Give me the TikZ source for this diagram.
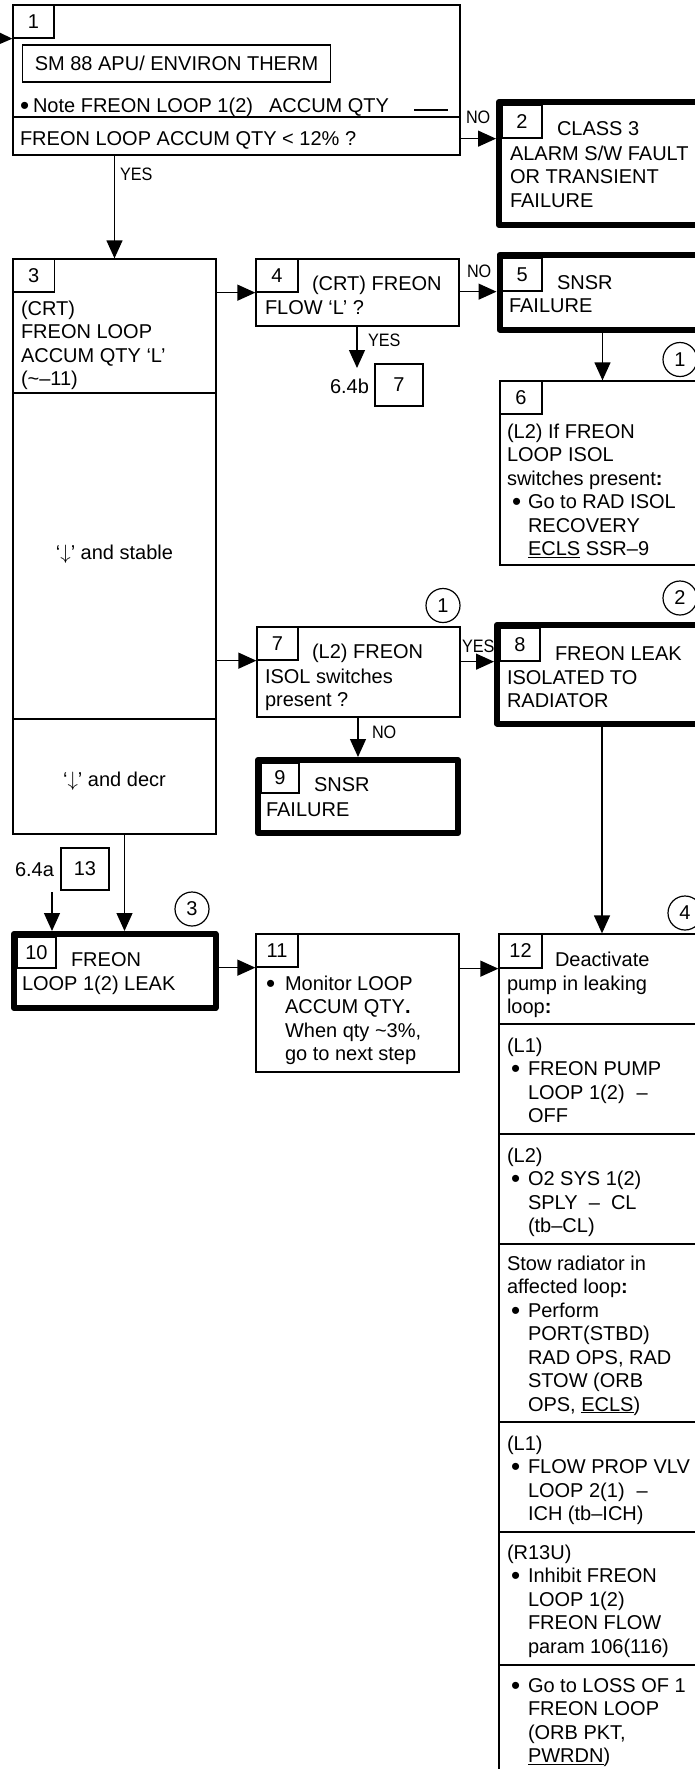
\documentclass[tikz,border=0pt]{standalone}
\usepackage{fontspec}
\setmainfont{Liberation Sans}
\newfontfamily\lblfamily[FakeStretch=0.9]{Liberation Sans}
\usetikzlibrary{arrows.meta}
\newcommand\myfs{\fontsize{20}{23.5}\selectfont}
\newcommand\mylbl{\lblfamily\fontsize{18}{20}\selectfont}
\newcommand\mybul{\raisebox{-2pt}{\scalebox{1.3}{\textbullet}}}
\newcommand\mkbox[6]{\node[#1, minimum width={#5-#3}, minimum height={#6-#4}] (#2) at ({(#3+#5)/2},{(#4+#6)/2}) {};}
\newcommand\mknum[6]{\node[numbox, minimum width={#4-#2}, minimum height={#5-#3}] (#1) at ({(#2+#4)/2},{(#3+#5)/2}) {#6};}
\newcommand\tlines[4]{\foreach \mytl [count=\i] in {#4} {\node[txt] (#1-\i) at (#2,{#3+(\i-1)*23.5}) {\mytl};}}
\begin{document}
\begin{tikzpicture}[x=1pt,y=-1pt,
  thinbox/.style={draw, line width=1.3pt, rectangle, inner sep=0pt, outer sep=0.65pt},
  thickbox/.style={draw, line width=6pt, line join=round, rectangle, inner sep=0pt, outer sep=3pt},
  numbox/.style={draw, line width=1.3pt, rectangle, inner sep=0pt, outer sep=0.65pt, font=\myfs},
  txt/.style={anchor=base west, inner sep=0pt, outer sep=0pt, font=\myfs},
  ctxt/.style={anchor=base, inner sep=0pt, outer sep=0pt, font=\myfs},
  lbl/.style={anchor=base west, inner sep=0pt, outer sep=0pt, font=\mylbl},
  circ/.style={draw, circle, line width=1.2pt, minimum size=34pt, inner sep=0pt, font=\myfs},
  arr/.style={line width=1.3pt, -{Triangle[length=18pt,width=16pt]}},
  rule/.style={line width=1.3pt}]
\useasboundingbox (0,0) rectangle (695,1769);
\clip (0,0) rectangle (695,1769);

% ---------- box 1
\mkbox{thinbox}{b1}{13}{5}{460}{155}
\mknum{n1}{13}{5}{54}{38}{1}
\draw[rule] (13,117) -- (460,117);
\node[thinbox, minimum width=308, minimum height=37, font=\myfs] (sm) at (176.5,63.5) {SM 88 APU/ ENVIRON THERM};
\node[txt] (b1bul) at (20,112) {\mybul};
\node[txt] (b1note) at (33,112) {Note FREON LOOP 1(2)\hspace{16pt}ACCUM QTY};
\draw[rule] (414,110) -- (448,110);
\node[txt] (b1q) at (20,145) {FREON LOOP ACCUM QTY < 12\% ?};

% ---------- box 2
\mkbox{thickbox}{b2}{499}{102}{705}{225}
\mknum{n2}{502}{105}{542}{138}{2}
\node[txt] (b2a) at (557,135) {CLASS 3};
\tlines{b2t}{510}{160}{{ALARM S/W FAULT},{OR TRANSIENT},{FAILURE}}

% ---------- box 3
\mkbox{thinbox}{b3}{13}{259}{216}{834}
\mknum{n3}{13}{259}{54.5}{292}{3}
\draw[rule] (13,393) -- (216,393);
\draw[rule] (13,719) -- (216,719);
\tlines{b3t}{21}{315}{{(CRT)},{FREON LOOP},{ACCUM QTY ‘L’},{(\textasciitilde–11)}}
\node[ctxt] (st) at (114.5,559) {‘$\downarrow$’ and stable};
\node[ctxt] (dc) at (114.5,786) {‘$\downarrow$’ and decr};

% ---------- box 4
\mkbox{thinbox}{b4}{256}{259}{459}{326}
\mknum{n4}{256}{259}{298}{292}{4}
\node[txt] (b4a) at (312,290) {(CRT) FREON};
\node[txt] (b4b) at (265,314) {FLOW ‘L’ ?};
\node[txt] (t64b) at (330,393) {6.4b};
\mknum{r7}{375}{364}{423}{406}{7}

% ---------- box 5
\mkbox{thickbox}{b5}{499.5}{255}{705}{329.5}
\mknum{n5}{502.5}{258}{542}{291}{5}
\node[txt] (b5a) at (557,289) {SNSR};
\node[txt] (b5b) at (509,312) {FAILURE};

% ---------- box 6
\mkbox{thinbox}{b6}{500}{381}{705}{565}
\mknum{n6}{500}{381}{542}{414}{6}
\tlines{b6t}{507}{438}{{(L2) If FREON},{LOOP ISOL},{switches present\textbf{:}}}
\node[txt] (b6bul) at (512,508.5) {\mybul};
\tlines{b6u}{528}{508.5}{{Go to RAD ISOL},{RECOVERY},{\underline{ECLS} SSR–9}}

% ---------- box 7
\mkbox{thinbox}{b7}{257}{627}{460}{717}
\mknum{n7}{257}{627}{298}{660}{7}
\node[txt] (b7a) at (312,658) {(L2) FREON};
\tlines{b7t}{265}{683}{{ISOL switches},{present ?}}

% ---------- box 8
\mkbox{thickbox}{b8}{497}{625}{705}{723.5}
\mknum{n8}{500}{628}{540}{661}{8}
\node[txt] (b8a) at (555,660) {FREON LEAK};
\tlines{b8t}{507}{684}{{ISOLATED TO},{RADIATOR}}

% ---------- box 9
\mkbox{thickbox}{b9}{258}{760}{458}{833}
\mknum{n9}{261}{763}{299}{793}{9}
\node[txt] (b9a) at (314,791) {SNSR};
\node[txt] (b9b) at (266,816) {FAILURE};

% ---------- box 10
\mkbox{thickbox}{b10}{14}{934}{215.5}{1008}
\mknum{n10}{17}{937}{56}{968}{10}
\node[txt] (b10a) at (71,966) {FREON};
\node[txt] (b10b) at (22,990) {LOOP 1(2) LEAK};
\node[txt] (t64a) at (15,876) {6.4a};
\mknum{r13}{61}{848}{109}{890}{13}

% ---------- box 11
\mkbox{thinbox}{b11}{256}{934}{459}{1072}
\mknum{n11}{256}{934}{298}{967}{11}
\node[txt] (b11bul) at (266,990) {\mybul};
\tlines{b11t}{285}{990}{{Monitor LOOP},{ACCUM QTY\textbf{.}},{When qty \textasciitilde3\%,},{go to next step}}

% ---------- box 12
\mkbox{thinbox}{b12}{499}{934}{705}{1800}
\mknum{n12}{499}{934}{542}{968}{12}
\node[txt] (b12a) at (555,966) {Deactivate};
\tlines{b12t}{507}{990}{{pump in leaking},{loop\textbf{:}}}
\foreach \yy in {1024,1134,1244,1422,1532,1665} {\draw[rule] (499,\yy) -- (705,\yy);}
\node[txt] (s2h) at (507,1052) {(L1)};
\node[txt] (s2b) at (511,1075.5) {\mybul};
\tlines{s2t}{528}{1075.5}{{FREON PUMP},{LOOP 1(2)\hspace{12pt}–},{OFF}}
\node[txt] (s3h) at (507,1162) {(L2)};
\node[txt] (s3b) at (511,1185.5) {\mybul};
\tlines{s3t}{528}{1185.5}{{O2 SYS 1(2)},{SPLY\ \ –\ \ CL},{(tb–CL)}}
\tlines{s4h}{507}{1270}{{Stow radiator in},{affected loop\textbf{:}}}
\node[txt] (s4b) at (511,1317) {\mybul};
\tlines{s4t}{528}{1317}{{Perform},{PORT(STBD)},{RAD OPS, RAD},{STOW (ORB},{OPS, \underline{ECLS})}}
\node[txt] (s5h) at (507,1450) {(L1)};
\node[txt] (s5b) at (511,1473.5) {\mybul};
\tlines{s5t}{528}{1473.5}{{FLOW PROP VLV},{LOOP 2(1)\hspace{12pt}–},{ICH (tb–ICH)}}
\node[txt] (s6h) at (507,1559) {(R13U)};
\node[txt] (s6b) at (511,1582.5) {\mybul};
\tlines{s6t}{528}{1582.5}{{Inhibit FREON},{LOOP 1(2)},{FREON FLOW},{param 106(116)}}
\node[txt] (s7b) at (511,1692) {\mybul};
\tlines{s7t}{528}{1692}{{Go to LOSS OF 1},{FREON LOOP},{(ORB PKT,},{\underline{PWRDN})}}

% ---------- circles
\node[circ] (k1) at (680,359.5) {1};
\node[circ] (k1b) at (443,605.5) {1};
\node[circ] (k2) at (680,598) {2};
\node[circ] (k3) at (192,909) {3};
\node[circ] (k4) at (685,913) {4};

% ---------- labels
\node[lbl] (yes1) at (120,180) {YES};
\node[lbl] (no1) at (466,123) {NO};
\node[lbl] (no2) at (467,277) {NO};
\node[lbl] (yes2) at (368,346) {YES};
\node[lbl] (yes3) at (462,652) {YES};
\node[lbl] (no3) at (372,738) {NO};

% ---------- connectors
\coordinate (in1) at (-20,38);
\draw[arr] (in1) -- (n1.south west);
\draw[arr] (b1.east |- n2.south) -- (b2.west |- n2.south);
\draw[arr] (b1.south -| b3.north) -- (b3.north);
\draw[arr] (b3.east |- n4.south) -- (n4.south west);
\draw[arr] (b4.east |- n5.south) -- (b5.west |- n5.south);
\coordinate (y4) at (357,368);
\draw[arr] (b4.south -| y4) -- (y4);
\draw[arr] (b5.south -| b6.north) -- (b6.north);
\draw[arr] (b3.east |- n7.south) -- (n7.south west);
\draw[arr] (b7.east |- n8.south) -- (b8.west |- n8.south);
\draw[arr] (b7.south -| b9.north) -- (b9.north);
\draw[arr] (b8.south -| b12.north) -- (b12.north);
\draw[arr] ([xshift=10pt]b3.south) -- ([xshift=10pt]b3.south |- b10.north);
\coordinate (c13) at (52,892);
\draw[arr] (c13) -- (c13 |- b10.north);
\draw[arr] (b10.east |- n11.south) -- (n11.south west);
\draw[arr] (b11.east |- n12.south) -- (n12.south west);
\end{tikzpicture}
\end{document}
